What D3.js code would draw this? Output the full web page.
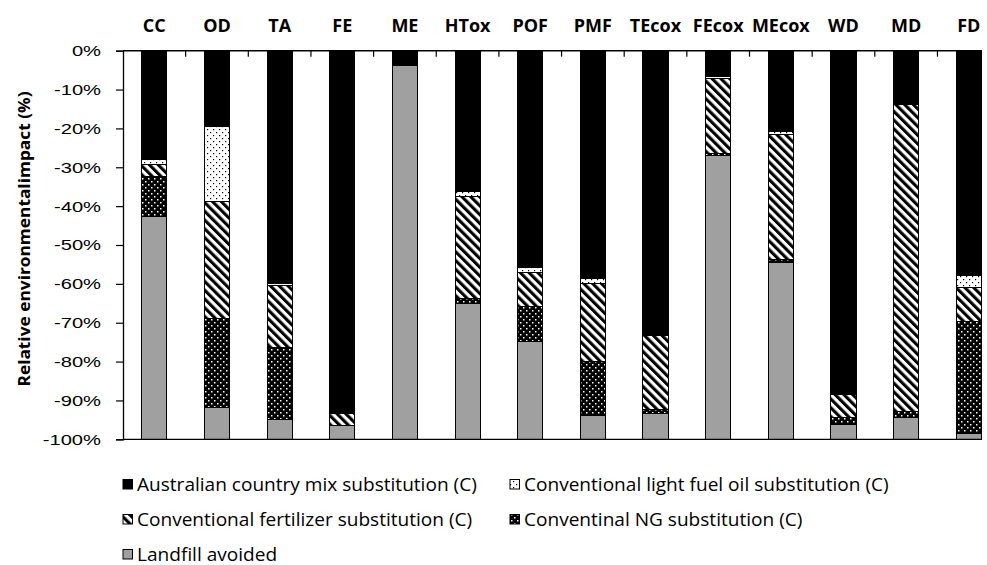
<!DOCTYPE html>
<html><head><meta charset="utf-8">
<script src="https://cdn.jsdelivr.net/npm/d3@7"></script>
<style>
html,body{margin:0;padding:0;background:#fff;}
svg{display:block;}
</style></head>
<body>
<svg id="chart" width="987" height="565"></svg>
<script>
const categories = ["CC","OD","TA","FE","ME","HTox","POF","PMF","TEcox","FEcox","MEcox","WD","MD","FD"];
const australianMix = [28.0,19.6,59.8,93.3,3.9,36.3,55.9,58.7,73.1,6.7,20.7,88.3,13.6,57.8];
const lightFuelOil  = [1.3,19.3,0.6,0,0,1.1,1.3,1.1,0.3,0.4,0.8,0.2,0.2,3.2];
const fertilizer    = [3.0,30.1,15.9,3.2,0,26.4,8.6,20.2,19.0,19.3,32.3,5.8,79.0,8.6];
const naturalGas    = [10.3,22.8,18.7,0,0,1.3,9.0,13.9,0.9,0.5,0.6,1.9,1.5,28.8];
const landfill      = [57.4,8.2,5.0,3.5,96.1,34.9,25.2,6.1,6.7,73.1,45.6,3.8,5.7,1.6];
const yTicks = [0,-10,-20,-30,-40,-50,-60,-70,-80,-90,-100];
const seriesNames = ["Australian country mix substitution (C)","Conventional light fuel oil substitution (C)","Conventional fertilizer substitution (C)","Conventinal NG substitution (C)","Landfill avoided"];
const seriesKeys = ["aus","lfo","fert","ng","land"];
const seriesValues = [australianMix, lightFuelOil, fertilizer, naturalGas, landfill];

const svg = d3.select("#chart");
const L = 123, step = 62.65, T = 50.7, B = 439.3, clipR = 982;
const R = L + step * categories.length;

// patterns
const defs = svg.append("defs");
let p = defs.append("pattern").attr("id","p-lfo").attr("patternUnits","userSpaceOnUse").attr("width",6).attr("height",6);
p.append("rect").attr("width",6).attr("height",6).attr("fill","#fff");
p.append("rect").attr("x",0).attr("y",0).attr("width",1.2).attr("height",1.2).attr("fill","#000");
p.append("rect").attr("x",3).attr("y",3).attr("width",1.2).attr("height",1.2).attr("fill","#000");
p = defs.append("pattern").attr("id","p-ng").attr("patternUnits","userSpaceOnUse").attr("width",6).attr("height",6);
p.append("rect").attr("width",6).attr("height",6).attr("fill","#000");
p.append("rect").attr("x",1).attr("y",1).attr("width",1.5).attr("height",1.5).attr("fill","#fff");
p.append("rect").attr("x",4).attr("y",4).attr("width",1.5).attr("height",1.5).attr("fill","#fff");
p = defs.append("pattern").attr("id","p-fert").attr("patternUnits","userSpaceOnUse").attr("width",6.2).attr("height",10).attr("patternTransform","rotate(-45)");
p.append("rect").attr("width",6.2).attr("height",10).attr("fill","#fff");
p.append("rect").attr("x",0).attr("width",3.1).attr("height",10).attr("fill","#000");

const fills = {aus:"#000", lfo:"url(#p-lfo)", fert:"url(#p-fert)", ng:"url(#p-ng)", land:"#a0a0a0"};

defs.append("clipPath").attr("id","clip").append("rect").attr("x",0).attr("y",0).attr("width",clipR).attr("height",565);

const table = categories.map((c,i)=>{
  const o = {cat:c};
  seriesKeys.forEach((k,j)=>o[k] = -seriesValues[j][i]);
  return o;
});
const stacked = d3.stack().keys(seriesKeys).offset(d3.stackOffsetDiverging)(table);

const x = d3.scaleBand().domain(categories).range([L,R]).paddingInner(0.6).paddingOuter(0.3);
const xSlot = d3.scaleBand().domain(categories).range([L,R]).padding(0);
const y = d3.scaleLinear().domain([-100,0]).range([B,T]);

const plot = svg.append("g").attr("clip-path","url(#clip)");

plot.selectAll("g.series").data(stacked).join("g").attr("class","series")
  .attr("fill", d=>fills[d.key])
  .selectAll("rect").data(d=>d.filter(s=>s[1]-s[0] > 0)).join("rect")
  .attr("x", d=>x(d.data.cat))
  .attr("width", x.bandwidth())
  .attr("y", d=>y(d[1]))
  .attr("height", d=>y(d[0]) - y(d[1]))
  .attr("stroke", "#000").attr("stroke-width", 1)
  .attr("shape-rendering","crispEdges");

plot.append("line").attr("x1",L).attr("x2",R).attr("y1",T).attr("y2",T).attr("stroke","#000").attr("stroke-width",1.5);
plot.append("line").attr("x1",L).attr("x2",R).attr("y1",B).attr("y2",B).attr("stroke","#000").attr("stroke-width",1.3);
plot.selectAll("line.ctick").data(categories.slice(1)).join("line").attr("class","ctick")
  .attr("x1",d=>xSlot(d)).attr("x2",d=>xSlot(d)).attr("y1",T).attr("y2",T+6)
  .attr("stroke","#000").attr("stroke-width",1.2);

svg.append("g").selectAll("text").data(categories).join("text")
  .attr("x", d=>xSlot(d)+xSlot.bandwidth()/2).attr("y", 31.5)
  .attr("text-anchor","middle")
  .attr("font-family","'Open Sans', sans-serif").attr("font-weight","bold").attr("font-size",18)
  .attr("fill","#000").text(d=>d);

const yAxis = svg.append("g").attr("transform",`translate(${L},0)`)
  .call(d3.axisLeft(y).tickValues(yTicks).tickSize(7).tickPadding(15).tickFormat(d=>d+"%"));
yAxis.select(".domain").attr("stroke-width",1.3);
yAxis.selectAll(".tick line").attr("stroke-width",1.2);
yAxis.selectAll("text").attr("font-family","'Liberation Sans', Arial, sans-serif").attr("font-size",15.5).attr("fill","#000")
  .each(function(){ const w=this.getComputedTextLength(); d3.select(this).attr("textLength", w*1.3).attr("lengthAdjust","spacingAndGlyphs"); });

svg.append("text").attr("transform",`translate(30,${(T+B)/2 - 6}) rotate(-90)`)
  .attr("text-anchor","middle").attr("font-family","'Open Sans', sans-serif").attr("font-weight","bold").attr("font-size",15.5)
  .attr("fill","#000").text("Relative environmentalimpact (%)")
  .attr("textLength", 295).attr("lengthAdjust","spacingAndGlyphs");

const legendPos = [[123,484],[510,484],[123,519],[510,519],[123,554]];
const lg = svg.append("g").selectAll("g").data(seriesKeys).join("g")
  .attr("transform",(d,i)=>`translate(${legendPos[i][0]},${legendPos[i][1]})`);
lg.append("rect").attr("x",0).attr("y",-4.5).attr("width",9.5).attr("height",9.5)
  .attr("fill",d=>fills[d]).attr("stroke","#000").attr("stroke-width",1);
lg.append("text").attr("x",14).attr("y",6.5).attr("font-family","'Open Sans', sans-serif").attr("font-size",18.5)
  .attr("fill","#000").text((d,i)=>seriesNames[i])
  .each(function(){ const w=this.getComputedTextLength(); d3.select(this).attr("textLength", w*1.03).attr("lengthAdjust","spacingAndGlyphs"); });
</script>
</body></html>
